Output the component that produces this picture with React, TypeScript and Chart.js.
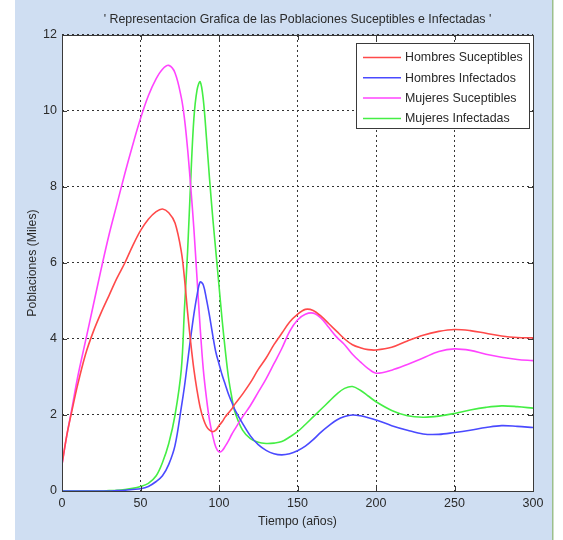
import { useEffect, useRef } from 'react';
import { Chart, registerables } from 'chart.js';

Chart.register(...registerables);

const FONT = '"Liberation Sans", Arial, Helvetica, sans-serif';

// Tiempo en años
const tiempo = [
  0, 3, 6, 10, 15, 20, 25, 30, 35, 40, 45, 50, 55, 60, 64, 68, 72, 76, 78, 80,
  82, 84, 86, 88, 90, 92, 94, 96, 98, 100, 102, 104, 106, 108, 110, 115, 120,
  125, 130, 135, 140, 145, 150, 155, 160, 165, 170, 175, 180, 185, 190, 195,
  200, 210, 220, 230, 240, 250, 260, 270, 280, 290, 300,
];

// Poblaciones en miles
const hombresSuceptibles = [
  0.7, 1.45, 2.05, 2.8, 3.6, 4.2, 4.7, 5.15, 5.6, 6.0, 6.45, 6.85, 7.15, 7.35, 7.42, 7.32, 7.05, 6.3, 5.6, 4.7,
  3.9, 3.2, 2.65, 2.2, 1.9, 1.7, 1.6, 1.56, 1.6, 1.72, 1.82, 1.95, 2.05, 2.15, 2.28, 2.55, 2.85,
  3.2, 3.5, 3.85, 4.15, 4.45, 4.65, 4.78, 4.75, 4.6, 4.4, 4.2, 4.0, 3.85, 3.77, 3.72,
  3.71, 3.78, 3.95, 4.1, 4.2, 4.25, 4.22, 4.15, 4.08, 4.04, 4.03,
];

const hombresInfectados = [
  0, 0, 0, 0, 0, 0, 0, 0, 0.01, 0.02, 0.04, 0.06, 0.12, 0.25, 0.4, 0.7, 1.2, 2.2, 2.75, 3.4,
  4.05, 4.65, 5.15, 5.5, 5.42, 5.05, 4.6, 4.1, 3.65, 3.35, 3.05, 2.8, 2.55, 2.35, 2.15, 1.78, 1.45,
  1.22, 1.07, 0.98, 0.95, 0.98, 1.06, 1.18, 1.35, 1.55, 1.72, 1.87, 1.96, 2.0, 1.98, 1.93,
  1.87, 1.72, 1.6, 1.5, 1.49, 1.54, 1.6, 1.67, 1.72, 1.7, 1.67,
];

const mujeresSuceptibles = [
  0.7, 1.45, 2.1, 3.0, 3.95, 4.9, 5.85, 6.75, 7.55, 8.35, 9.1, 9.8, 10.4, 10.85, 11.1, 11.2, 11.0, 10.35, 9.8, 9.0,
  8.0, 6.9, 5.6, 4.3, 3.2, 2.45, 1.85, 1.45, 1.15, 1.03, 1.06, 1.18, 1.32, 1.48, 1.62, 1.95, 2.25,
  2.6, 2.95, 3.35, 3.75, 4.2, 4.5, 4.65, 4.68, 4.55, 4.3, 4.05, 3.85, 3.6, 3.4, 3.22,
  3.1, 3.18, 3.33, 3.5, 3.67, 3.74, 3.7, 3.6, 3.52, 3.46, 3.43,
];

const mujeresInfectadas = [
  0, 0, 0, 0, 0, 0, 0, 0.01, 0.02, 0.04, 0.07, 0.12, 0.2, 0.4, 0.75, 1.25, 2.0, 3.2, 4.8, 6.3,
  8.2, 9.8, 10.55, 10.77, 10.3, 9.3, 8.2, 7.2, 6.3, 5.4, 4.5, 3.7, 3.0, 2.5, 2.1, 1.6, 1.38,
  1.28, 1.25, 1.26, 1.3, 1.42, 1.56, 1.75, 1.95, 2.15, 2.35, 2.55, 2.7, 2.75, 2.65, 2.5,
  2.35, 2.12, 1.98, 1.94, 1.97, 2.04, 2.13, 2.2, 2.24, 2.22, 2.18,
];

const series = [
  { label: 'Hombres Suceptibles', values: hombresSuceptibles, color: '#ff4a4a' },
  { label: 'Hombres Infectados', values: hombresInfectados, color: '#4a4aff' },
  { label: 'Mujeres Suceptibles', values: mujeresSuceptibles, color: '#ff44ff' },
  { label: 'Mujeres Infectadas', values: mujeresInfectadas, color: '#44ee44' },
];

const titulo = "' Representacion Grafica de las Poblaciones Suceptibles e Infectadas '";

// Figure background, axes frame with inward ticks, and boxed legend
const figurePlugin = {
  id: 'figureDecor',
  beforeDraw(chart: any) {
    const { ctx, width, height, chartArea } = chart;
    ctx.save();
    ctx.fillStyle = '#ffffff';
    ctx.fillRect(0, 0, width, height);
    ctx.fillStyle = '#cfdef2';
    ctx.fillRect(15, 0, 537, height);
    ctx.fillStyle = '#9cbf8c';
    ctx.fillRect(552, 0, 1.5, height);
    ctx.fillStyle = '#ffffff';
    ctx.fillRect(chartArea.left, chartArea.top, chartArea.right - chartArea.left, chartArea.bottom - chartArea.top);
    ctx.restore();
  },
  afterDatasetsDraw(chart: any) {
    const { ctx, chartArea } = chart;
    const { left, right, top, bottom } = chartArea;
    const xs = chart.scales.x;
    const ys = chart.scales.y;
    ctx.save();
    ctx.strokeStyle = '#3a3a3a';
    ctx.lineWidth = 1;
    ctx.setLineDash([]);
    ctx.strokeRect(Math.round(left) + 0.5, Math.round(top) + 0.5, Math.round(right - left), Math.round(bottom - top));
    const tl = 5;
    ctx.beginPath();
    xs.ticks.forEach((t: any) => {
      const px = Math.round(xs.getPixelForValue(t.value)) + 0.5;
      ctx.moveTo(px, bottom);
      ctx.lineTo(px, bottom - tl);
      ctx.moveTo(px, top);
      ctx.lineTo(px, top + tl);
    });
    ys.ticks.forEach((t: any) => {
      const py = Math.round(ys.getPixelForValue(t.value)) + 0.5;
      ctx.moveTo(left, py);
      ctx.lineTo(left + tl, py);
      ctx.moveTo(right, py);
      ctx.lineTo(right - tl, py);
    });
    ctx.stroke();

    // legend
    const bx = 356, by = 43, bw = 173, bh = 85;
    ctx.fillStyle = '#ffffff';
    ctx.fillRect(bx, by, bw, bh);
    ctx.strokeStyle = '#3a3a3a';
    ctx.strokeRect(bx + 0.5, by + 0.5, bw, bh);
    ctx.font = `12.4px ${FONT}`;
    ctx.textBaseline = 'middle';
    ctx.textAlign = 'left';
    chart.data.datasets.forEach((ds: any, i: number) => {
      const y = 57.5 + i * 20.3;
      ctx.strokeStyle = ds.borderColor;
      ctx.lineWidth = 1.5;
      ctx.beginPath();
      ctx.moveTo(363, y);
      ctx.lineTo(401, y);
      ctx.stroke();
      ctx.fillStyle = '#2a2a2a';
      ctx.fillText(ds.label, 405, y + 0.5);
    });
    ctx.restore();
  },
};

export default function App() {
  const canvasRef = useRef<HTMLCanvasElement | null>(null);

  useEffect(() => {
    const canvas = canvasRef.current;
    if (!canvas) return;
    const chart = new Chart(canvas, {
      type: 'line',
      data: {
        datasets: series.map((s) => ({
          label: s.label,
          data: tiempo.map((t, i) => ({ x: t, y: s.values[i] })),
          borderColor: s.color,
          backgroundColor: s.color,
          borderWidth: 1.6,
          pointRadius: 0,
          tension: 0.35,
          fill: false,
        })),
      },
      options: {
        responsive: false,
        animation: false,
        layout: { padding: { left: 15, right: 30, top: 0, bottom: 0 } },
        plugins: {
          legend: { display: false },
          tooltip: { enabled: false },
          title: {
            display: true,
            fullSize: false,
            text: titulo,
            color: '#2a2a2a',
            font: { family: FONT, size: 12.4, weight: 'normal' },
            padding: { top: 12, bottom: 8.1 },
          },
        },
        scales: {
          x: {
            type: 'linear',
            min: 0,
            max: 300,
            ticks: {
              stepSize: 50,
              color: '#2a2a2a',
              padding: 5,
              maxRotation: 0,
              font: { family: FONT, size: 12.5 },
            },
            grid: { color: '#333333', lineWidth: 1, drawTicks: false },
            border: { display: false, dash: [2, 3] },
            title: {
              display: true,
              text: 'Tiempo (años)',
              color: '#2a2a2a',
              font: { family: FONT, size: 12.3 },
              padding: { top: 0, bottom: 11 },
            },
            afterFit: (s: any) => {
              s.height = 49;
            },
          },
          y: {
            type: 'linear',
            min: 0,
            max: 12,
            ticks: {
              stepSize: 2,
              color: '#2a2a2a',
              padding: 5,
              font: { family: FONT, size: 12.5 },
            },
            grid: { color: '#333333', lineWidth: 1, drawTicks: false },
            border: { display: false, dash: [2, 3] },
            title: {
              display: true,
              text: 'Poblaciones (Miles)',
              color: '#2a2a2a',
              font: { family: FONT, size: 12.3 },
              padding: { top: 10, bottom: 0 },
            },
            afterFit: (s: any) => {
              s.width = 47;
            },
          },
        },
      },
      plugins: [figurePlugin],
    });
    return () => chart.destroy();
  }, []);

  return (
    <div style={{ position: 'absolute', left: 0, top: 0, width: 563, height: 540 }}>
      <canvas ref={canvasRef} width={563} height={540} />
    </div>
  );
}
